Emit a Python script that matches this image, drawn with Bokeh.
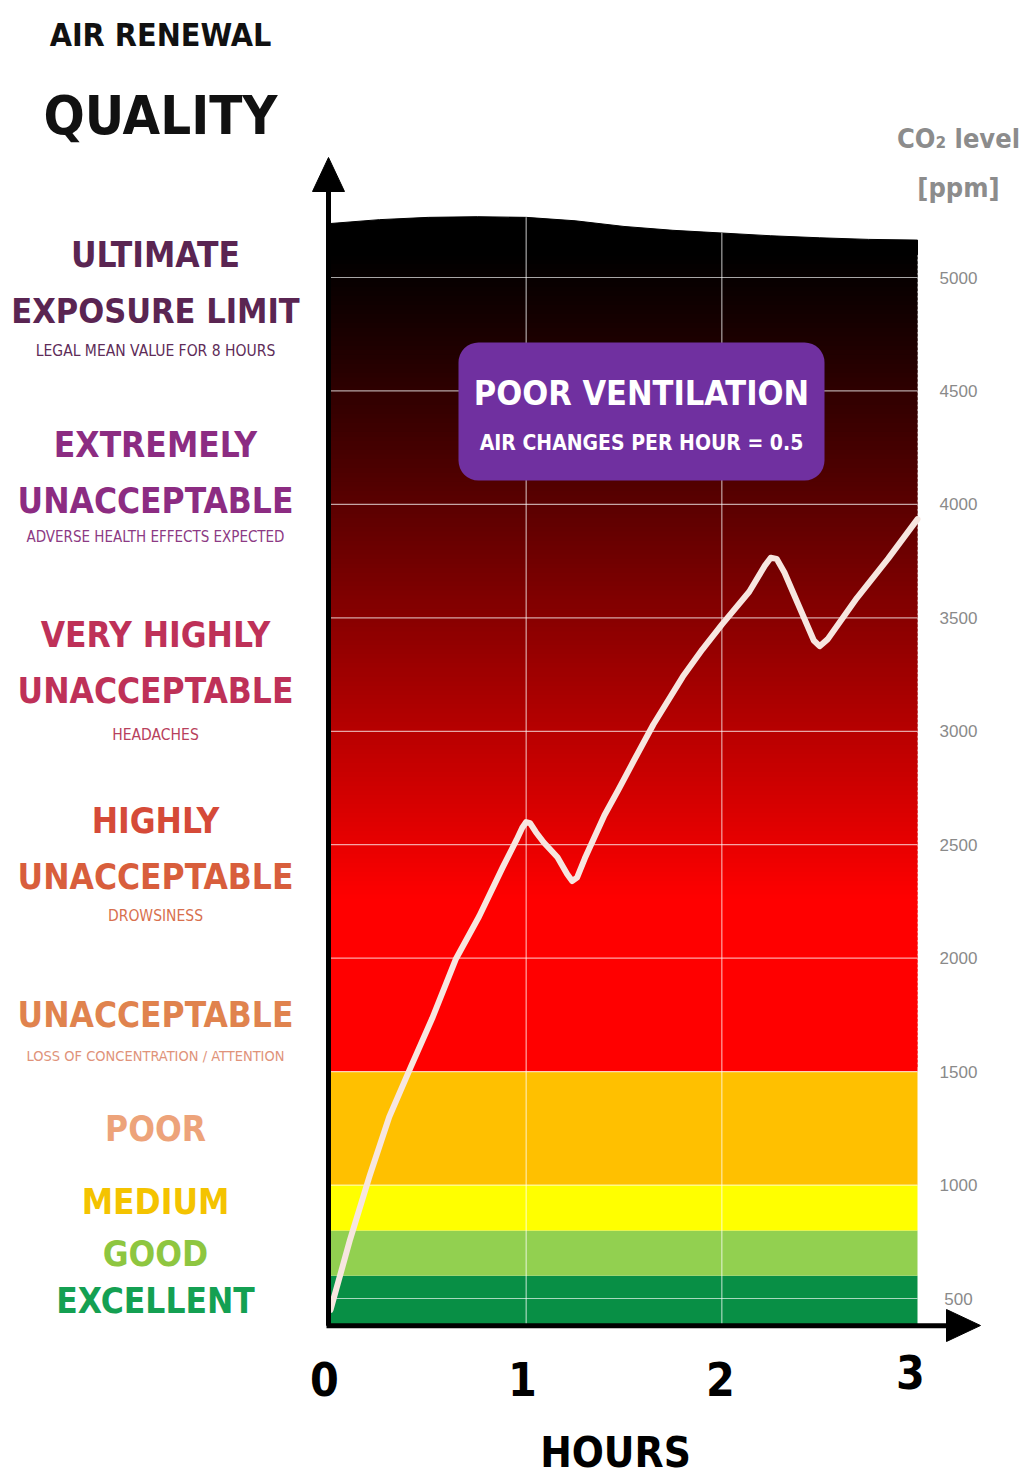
import numpy as np
from bokeh.plotting import figure
from bokeh.models import Range1d
from bokeh.core.properties import value
from bokeh.embed import file_html
from bokeh.resources import INLINE

# ---------------- data ----------------
hours = [0, 0.1, 0.2, 0.3, 0.41, 0.52, 0.64, 0.76, 0.88, 0.95, 0.98, 1.0, 1.02, 1.05, 1.09, 1.16,
         1.21, 1.235, 1.26, 1.3, 1.4, 1.47, 1.55, 1.65, 1.8, 1.9, 2.0, 2.14, 2.22, 2.25, 2.28,
         2.32, 2.39, 2.47, 2.5, 2.54, 2.69, 2.85, 3.0]
co2_ppm = [450, 760, 1040, 1300, 1520, 1735, 1995, 2185, 2400, 2520, 2575, 2600, 2595, 2555, 2510, 2445,
           2370, 2340, 2355, 2440, 2630, 2740, 2870, 3030, 3240, 3360, 3470, 3615, 3730, 3765, 3760,
           3700, 3560, 3400, 3375, 3405, 3587, 3761, 3935]

band_lo = [380, 600, 800, 1000]
band_hi = [600, 800, 1000, 1500]
band_colors = ["#088f45", "#92d050", "#ffff00", "#ffc000"]
red_from = 1500
red_full_until = 2250
black_at = 5100

top_edge_hours = [0, 0.25, 0.5, 0.75, 1.0, 1.25, 1.5, 1.75, 2.0, 2.25, 2.5, 2.75, 3.0]
top_edge_ppm = [5238, 5255, 5265, 5268, 5265, 5250, 5225, 5208, 5196, 5184, 5175, 5168, 5165]

ppm_ticks = [500, 1000, 1500, 2000, 2500, 3000, 3500, 4000, 4500, 5000]
hour_ticks = [0, 1, 2, 3]
hour_labels = ["0", "1", "2", "3"]
y_min = 380

# ---------------- layout helpers (page pixels -> data) ----------------
W, H = 1025, 1477
PX_PER_H = (917 - 330) / 3.0
PX_PER_PPM = (1298 - 277) / 4500.0
def hx(px):
    return (px - 330) / PX_PER_H
def vy(py):
    return 500 + (1298 - py) / PX_PER_PPM

p = figure(width=W, height=H, output_backend="svg", toolbar_location=None,
           x_range=Range1d(hx(0), hx(W)), y_range=Range1d(vy(H), vy(0)),
           min_border=0, outline_line_color=None, background_fill_color="white",
           border_fill_color="white")
p.axis.visible = False
p.grid.visible = False

# colour bands
p.quad(left=0, right=3, bottom=band_lo, top=band_hi, fill_color=band_colors, line_color=None)

# red -> black gradient
step = 20
lo = np.arange(red_from, black_at, step)
cols = []
for v in lo:
    t = 0.0 if v < red_full_until else min(1.0, (v - red_full_until) / (black_at - red_full_until))
    r = int(round(255 * (1 - t) ** 1.1))
    cols.append("#%02x%02x%02x" % (r, 0, 0))
p.quad(left=0, right=3, bottom=lo, top=lo + step * 1.6, fill_color=cols, line_color=None)

# black top with wavy edge
xs = [0] + top_edge_hours + [3]
ys = [black_at] + top_edge_ppm + [black_at]
p.patch(xs, ys, fill_color="black", line_color="black", line_width=1)

# grid lines
p.segment(x0=0, x1=3, y0=ppm_ticks, y1=ppm_ticks, line_color="white", line_alpha=0.65, line_width=1.2)
vx = [1, 2]
vtop = list(np.interp(vx, top_edge_hours, top_edge_ppm))
p.segment(x0=vx, x1=vx, y0=y_min, y1=vtop, line_color="white", line_alpha=0.65, line_width=1.2)

# CO2 curve
p.line(hours, co2_ppm, line_color="#f7e6e0", line_width=6, line_join="round", line_cap="round")

# axes with arrows
p.line([hx(328), hx(328)], [y_min, vy(186)], line_color="black", line_width=5)
p.patch([hx(312), hx(344), hx(328)], [vy(191), vy(191), vy(157)], fill_color="black", line_color="black")
p.line([hx(326), hx(952)], [y_min, y_min], line_color="black", line_width=5)
p.patch([hx(946), hx(946), hx(980)], [vy(1309), vy(1341), vy(1325)], fill_color="black", line_color="black")

# purple box
p.quad(left=hx(458), right=hx(824), top=vy(342), bottom=vy(480), fill_color="#7030a0",
       line_color=None, border_radius=20)

COND = value("DejaVu Sans Condensed")
p.text(x=[hx(641)], y=[vy(392)], text=["POOR VENTILATION"], text_font=COND, text_font_size="34px",
       text_font_style="bold", text_color="white", text_align="center", text_baseline="middle")
p.text(x=[hx(641)], y=[vy(442)], text=["AIR CHANGES PER HOUR = 0.5"], text_font=COND, text_font_size="21px",
       text_font_style="bold", text_color="white", text_align="center", text_baseline="middle")

# right tick labels
p.text(x=[hx(958)] * len(ppm_ticks), y=ppm_ticks, text=[str(t) for t in ppm_ticks],
       text_font=value("Liberation Sans"), text_font_size="17px", text_color="#8a8a8a",
       text_align="center", text_baseline="middle")
p.text(x=[hx(958)], y=[vy(138)], text=["CO\u2082 level"], text_font=COND, text_font_size="27px",
       text_font_style="bold", text_color="#8c8c8c", text_align="center", text_baseline="middle")
p.text(x=[hx(958)], y=[vy(187)], text=["[ppm]"], text_font=COND, text_font_size="27px",
       text_font_style="bold", text_color="#8c8c8c", text_align="center", text_baseline="middle")

# hour labels
p.text(x=[hx(324), hx(522), hx(720), hx(910)], y=[vy(1378), vy(1378), vy(1378), vy(1371)],
       text=hour_labels, text_font=COND, text_font_size="46px",
       text_font_style="bold", text_color="black", text_align="center", text_baseline="middle")
p.text(x=[hx(615)], y=[vy(1452)], text=["HOURS"], text_font=COND, text_font_size="42px",
       text_font_style="bold", text_color="black", text_align="center", text_baseline="middle")

# left titles / labels: (text, page y, size, bold, colour)
left_labels = [
    ("AIR RENEWAL", 34, "32px", True, "#111111"),
    ("QUALITY", 115, "54px", True, "#111111"),
    ("ULTIMATE", 254, "35px", True, "#5a2552"),
    ("EXPOSURE LIMIT", 310, "34px", True, "#5a2552"),
    ("LEGAL MEAN VALUE FOR 8 HOURS", 350, "15.5px", False, "#5e2c58"),
    ("EXTREMELY", 444, "35px", True, "#8c2c82"),
    ("UNACCEPTABLE", 500, "35px", True, "#8c2c82"),
    ("ADVERSE HEALTH EFFECTS EXPECTED", 536, "15px", False, "#8c3a84"),
    ("VERY HIGHLY", 634, "35px", True, "#be3158"),
    ("UNACCEPTABLE", 690, "35px", True, "#be3158"),
    ("HEADACHES", 734, "15.5px", False, "#b8405c"),
    ("HIGHLY", 820, "35px", True, "#d54a38"),
    ("UNACCEPTABLE", 876, "35px", True, "#d85e3c"),
    ("DROWSINESS", 915, "15.5px", False, "#d8704e"),
    ("UNACCEPTABLE", 1014, "35px", True, "#e0834e"),
    ("LOSS OF CONCENTRATION / ATTENTION", 1055, "14.5px", False, "#e0937a"),
    ("POOR", 1128, "35px", True, "#eda37a"),
    ("MEDIUM", 1201, "35px", True, "#f4c300"),
    ("GOOD", 1253, "35px", True, "#8ec640"),
    ("EXCELLENT", 1300, "35px", True, "#14a052"),
]
for txt, py, size, bold, col in left_labels:
    cx = 160 if txt in ("AIR RENEWAL", "QUALITY") else 155
    p.text(x=[hx(cx)], y=[vy(py)], text=[txt], text_font=COND, text_font_size=size,
           text_font_style="bold" if bold else "normal", text_color=col,
           text_align="center", text_baseline="middle")

open("out.html", "w").write(file_html(p, INLINE))
